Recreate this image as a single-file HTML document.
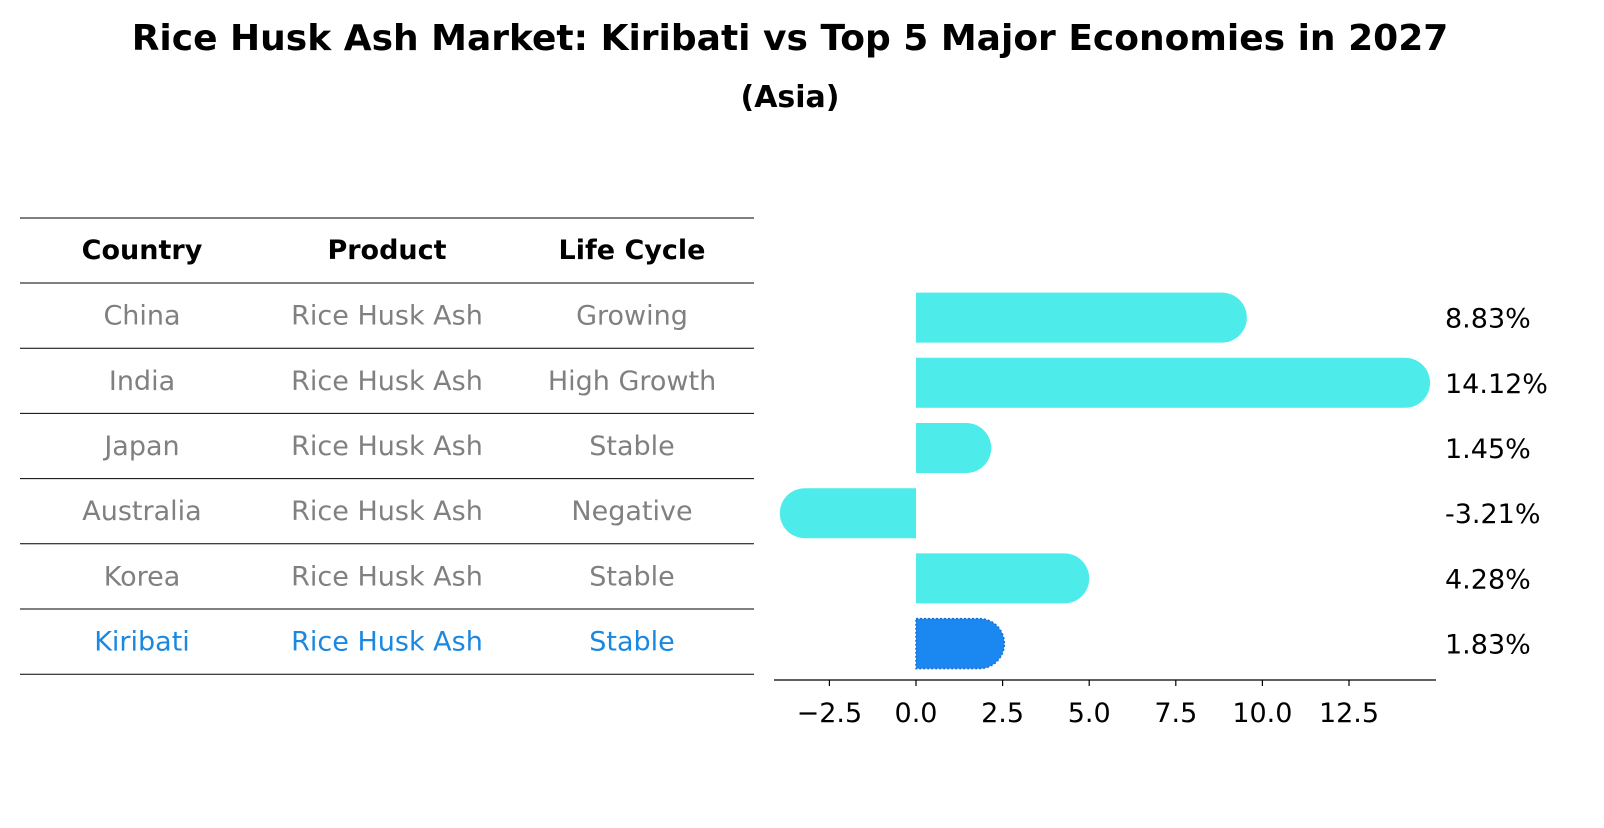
<!DOCTYPE html>
<html><head><meta charset="utf-8">
<style>
body{margin:0;background:#fff;font-family:"Liberation Sans","DejaVu Sans",sans-serif;}
</style></head>
<body>
<svg id="chart" width="1604" height="823" xmlns="http://www.w3.org/2000/svg" font-family="DejaVu Sans, Liberation Sans, sans-serif">
<rect width="1604" height="823" fill="#fff"/>
<text x="790" y="50" text-anchor="middle" font-size="36" font-weight="bold">Rice Husk Ash Market: Kiribati vs Top 5 Major Economies in 2027</text>
<text x="790" y="107" text-anchor="middle" font-size="30" font-weight="bold">(Asia)</text>
<g id="table"></g>
<g id="bars"></g>
</svg>
<script>
const countries=["China","India","Japan","Australia","Korea","Kiribati"];
const products=["Rice Husk Ash","Rice Husk Ash","Rice Husk Ash","Rice Husk Ash","Rice Husk Ash","Rice Husk Ash"];
const lifeCycles=["Growing","High Growth","Stable","Negative","Stable","Stable"];
const growth=[8.83,14.12,1.45,-3.21,4.28,1.83];
const ticks=[-2.5,0.0,2.5,5.0,7.5,10.0,12.5];
const NS="http://www.w3.org/2000/svg";
function mk(tag,attrs,parent){const e=document.createElementNS(NS,tag);for(const k in attrs)e.setAttribute(k,attrs[k]);parent.appendChild(e);return e;}
const x0=916,ppu=34.64;
function xs(v){return x0+v*ppu;}
const rowTop=283,rowH=65.2;
function yc(i){return rowTop+rowH*i+rowH/2;}
const tbl=document.getElementById('table');
const colX=[142,387,632];
const heads=["Country","Product","Life Cycle"];
heads.forEach((h,j)=>{const t=mk('text',{x:colX[j],y:259,'text-anchor':'middle','font-size':27,'font-weight':'bold'},tbl);t.textContent=h;

});
for(let i=0;i<=countries.length+1;i++){const y=i==0?218:rowTop+rowH*(i-1);
const l=mk('line',{x1:20,x2:754,y1:y,y2:y,stroke:'#000','stroke-width':1},tbl);

}
countries.forEach((c,i)=>{const col=i==countries.length-1?'#1a88e0':'#808080';
[c,products[i],lifeCycles[i]].forEach((v,j)=>{const t=mk('text',{x:colX[j],y:yc(i)+9,'text-anchor':'middle','font-size':27,fill:col},tbl);t.textContent=v;

});});
const g=document.getElementById('bars');
const bh=50,r=25;
growth.forEach((v,i)=>{const y=yc(i)+2-bh/2;const last=i==growth.length-1;const col=last?'#1a88f0':'#4deceb';
const xa=xs(0),xb=xs(v);
const d=v>=0?`M${xa},${y} L${xb},${y} A${r},${r} 0 0 1 ${xb},${y+bh} L${xa},${y+bh} Z`:`M${xa},${y} L${xb},${y} A${r},${r} 0 0 0 ${xb},${y+bh} L${xa},${y+bh} Z`;
const p=mk('path',{d:d,fill:col},g);
if(last){p.setAttribute('stroke','#1a6fd0');p.setAttribute('stroke-dasharray','2,2');p.setAttribute('stroke-width','1.5');}


const t=mk('text',{x:1445,y:yc(i)+12,'font-size':27},g);t.textContent=v.toFixed(2)+'%';

});
const ax=mk('line',{x1:774,x2:1436,y1:680,y2:680,stroke:'#000','stroke-width':1.2},g);


ticks.forEach(tv=>{const x=xs(tv);const tl=mk('line',{x1:x,x2:x,y1:680,y2:686,stroke:'#000','stroke-width':1.2},g);


const t=mk('text',{x:x,y:722,'text-anchor':'middle','font-size':27},g);t.textContent=(tv<0?'\u2212':'')+Math.abs(tv).toFixed(1);

});
</script>
</body></html>
